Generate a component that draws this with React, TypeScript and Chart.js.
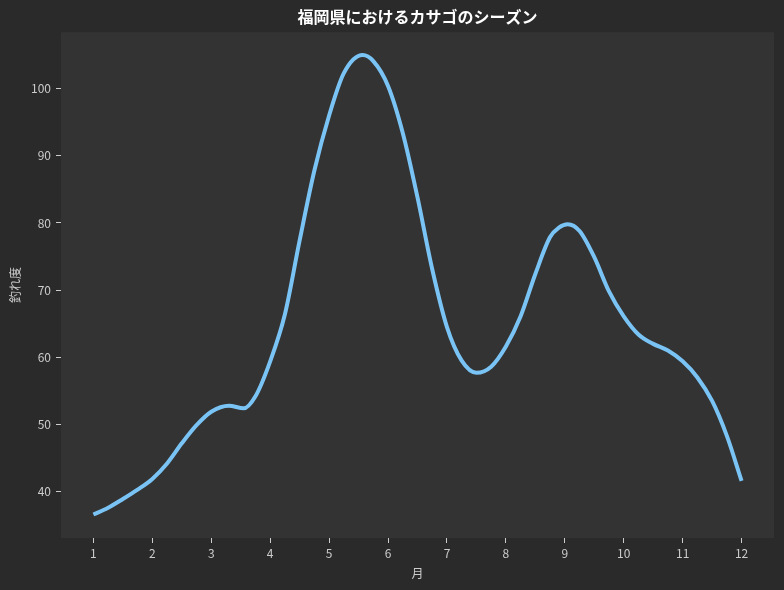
import React, { useEffect, useRef } from "react";
import { Chart, registerables } from "chart.js";

Chart.register(...registerables);

const TITLE = "福岡県におけるカサゴのシーズン";
const X_LABEL = "月";
const Y_LABEL = "釣れ度";

const monthTicks = [1, 2, 3, 4, 5, 6, 7, 8, 9, 10, 11, 12];
const yTicks = [40, 50, 60, 70, 80, 90, 100];

// curve positions (month) and values
const curveX = [
  1.0, 1.25, 1.5, 1.75, 2.0, 2.25, 2.5, 2.75, 3.0, 3.3, 3.55, 3.75, 4.0, 4.25,
  4.5, 4.75, 5.0, 5.25, 5.57, 5.75, 6.0, 6.25, 6.5, 6.75, 7.0, 7.25, 7.5, 7.75,
  8.0, 8.25, 8.5, 8.75, 8.9, 9.05, 9.25, 9.5, 9.75, 10.0, 10.25, 10.5, 10.75,
  11.0, 11.25, 11.5, 11.75, 12.0,
];
const curveY = [
  36.6, 37.6, 38.9, 40.3, 41.9, 44.2, 47.2, 49.9, 51.9, 52.8, 52.4, 54.2, 59.4,
  66.4, 77.4, 87.8, 96.0, 102.3, 105.0, 104.1, 100.4, 93.4, 83.8, 73.1, 64.5,
  59.5, 57.7, 58.6, 61.6, 66.1, 72.4, 77.9, 79.3, 79.8, 78.8, 74.9, 69.8, 66.1,
  63.4, 62.0, 61.0, 59.4, 57.0, 53.5, 48.3, 41.6,
];

const bgPlugin = {
  id: "bgPlugin",
  beforeDraw(chart: any) {
    const { ctx, chartArea } = chart;
    ctx.save();
    ctx.fillStyle = "#2a2a2a";
    ctx.fillRect(0, 0, chart.width, chart.height);
    ctx.fillStyle = "#333333";
    ctx.fillRect(
      chartArea.left,
      chartArea.top,
      chartArea.right - chartArea.left,
      chartArea.bottom - chartArea.top
    );
    ctx.restore();
  },
};

export default function App() {
  const ref = useRef<HTMLCanvasElement | null>(null);

  useEffect(() => {
    if (!ref.current) return;
    const font = "'Noto Sans CJK JP', 'Noto Sans', sans-serif";
    const chart = new Chart(ref.current, {
      type: "scatter",
      data: {
        datasets: [
          {
            data: curveX.map((x, i) => ({ x, y: curveY[i] })),
            showLine: true,
            borderColor: "#7ac3f5",
            borderWidth: 4,
            pointRadius: 0,
            cubicInterpolationMode: "monotone",
            fill: false,
          } as any,
        ],
      },
      options: {
        responsive: false,
        animation: false,
        layout: { padding: { left: 0, right: 10, top: 0, bottom: 0 } },
        plugins: {
          legend: { display: false },
          tooltip: { enabled: false },
          title: {
            display: true,
            text: TITLE,
            color: "#ffffff",
            fullSize: false,
            font: { family: font, size: 16, weight: "bold" },
            padding: { top: 7, bottom: 6 },
          },
        },
        scales: {
          x: {
            type: "linear",
            min: 0.45,
            max: 12.55,
            afterBuildTicks: (scale: any) => {
              scale.ticks = monthTicks.map((v) => ({ value: v }));
            },
            afterFit: (scale: any) => {
              scale.height = 52;
            },
            border: { display: false },
            grid: {
              drawOnChartArea: false,
              drawTicks: true,
              tickLength: 5,
              tickColor: "#cccccc",
            },
            ticks: {
              color: "#cccccc",
              font: { family: font, size: 12 },
              padding: 3,
              maxRotation: 0,
              autoSkip: false,
            },
            title: {
              display: true,
              text: X_LABEL,
              color: "#cccccc",
              font: { family: font, size: 12 },
              padding: { top: 2, bottom: 9 },
            },
          },
          y: {
            type: "linear",
            min: 33.1,
            max: 108.4,
            afterBuildTicks: (scale: any) => {
              scale.ticks = yTicks.map((v) => ({ value: v }));
            },
            afterFit: (scale: any) => {
              scale.width = 61;
            },
            border: { display: false },
            grid: {
              drawOnChartArea: false,
              drawTicks: true,
              tickLength: 5,
              tickColor: "#cccccc",
            },
            ticks: {
              color: "#cccccc",
              font: { family: font, size: 12 },
              padding: 5,
              autoSkip: false,
            },
            title: {
              display: true,
              text: Y_LABEL,
              color: "#cccccc",
              font: { family: font, size: 12 },
              padding: { top: 8, bottom: 2 },
            },
          },
        },
      },
      plugins: [bgPlugin],
    });
    return () => chart.destroy();
  }, []);

  return (
    <div style={{ position: "absolute", left: 0, top: 0, width: 784, height: 590 }}>
      <canvas ref={ref} width={784} height={590} />
    </div>
  );
}
